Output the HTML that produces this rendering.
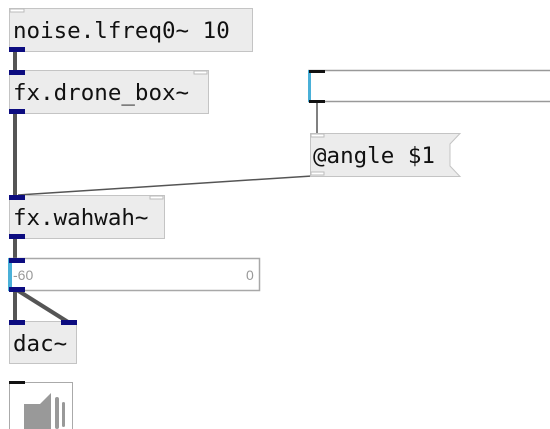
<!DOCTYPE html>
<html><head><style>
html,body{margin:0;padding:0;background:#fff;width:550px;height:429px;overflow:hidden}
svg{display:block}
text{font-family:"DejaVu Sans Mono","Liberation Mono",monospace;font-size:22.5px;fill:#111}
</style></head><body>
<svg width="550" height="429" viewBox="0 0 550 429">
<g stroke="#555" stroke-width="4" fill="none">
<line x1="15" y1="51" x2="15" y2="71"/>
<line x1="15" y1="113" x2="15" y2="196"/>
<line x1="15" y1="237" x2="15" y2="259"/>
<line x1="15" y1="290" x2="15" y2="322"/>
<line x1="17" y1="290" x2="68" y2="322"/>
</g>
<g stroke="#555" stroke-width="1.5" fill="none">
<line x1="317" y1="102" x2="317" y2="134"/>
<line x1="312" y1="176" x2="18" y2="195"/>
</g>
<rect x="9.5" y="8.5" width="243" height="43" fill="#ececec" stroke="#c4c4c4"/>
<rect x="10" y="9" width="14" height="3" fill="#fff" stroke="#bbb" stroke-width="1"/>
<text x="13" y="38">noise.lfreq0~ 10</text>
<rect x="9" y="47" width="16" height="5" fill="#0c0c80"/>
<rect x="9.5" y="70.5" width="199" height="43" fill="#ececec" stroke="#c4c4c4"/>
<rect x="194" y="71" width="13" height="3" fill="#fff" stroke="#bbb"/>
<rect x="9" y="70" width="16" height="5" fill="#0c0c80"/>
<text x="13" y="100">fx.drone_box~</text>
<rect x="9" y="109" width="16" height="5" fill="#0c0c80"/>
<rect x="9.5" y="195.5" width="155" height="43" fill="#ececec" stroke="#c4c4c4"/>
<rect x="150" y="196" width="13" height="3" fill="#fff" stroke="#bbb"/>
<rect x="9" y="195" width="16" height="5" fill="#0c0c80"/>
<text x="13" y="225">fx.wahwah~</text>
<rect x="9" y="234" width="16" height="5" fill="#0c0c80"/>
<rect x="9.5" y="258.5" width="250" height="32" fill="#fff" stroke="#a8a8a8" stroke-width="1.5"/>
<rect x="8" y="258" width="4" height="33" fill="#4ab0d8"/>
<rect x="9" y="258" width="16" height="5" fill="#0c0c80"/>
<rect x="9" y="287" width="16" height="5" fill="#0c0c80"/>
<text x="13" y="280" style="font-family:'Liberation Sans',sans-serif;font-size:14px;fill:#999">-60</text>
<text x="246" y="280" style="font-family:'Liberation Sans',sans-serif;font-size:14px;fill:#999">0</text>
<rect x="9.5" y="321.5" width="67" height="42" fill="#ececec" stroke="#c4c4c4"/>
<rect x="9" y="320" width="16" height="5" fill="#0c0c80"/>
<rect x="61" y="320" width="16" height="5" fill="#0c0c80"/>
<text x="13" y="351">dac~</text>
<rect x="9.5" y="382.5" width="63" height="50" fill="#fff" stroke="#aaa"/>
<rect x="9" y="381" width="16" height="3" fill="#111"/>
<polygon points="24,404 40,404 51,393 51,429 24,429" fill="#999"/>
<rect x="55" y="397" width="4" height="32" rx="2" fill="#999"/>
<rect x="62" y="402" width="3" height="25" rx="1.5" fill="#999"/>
<rect x="309" y="70.5" width="245" height="31" fill="#fff" stroke="#999" stroke-width="1.5"/>
<rect x="308" y="70" width="3" height="32" fill="#4ab0d8"/>
<rect x="309" y="70" width="16" height="3" fill="#111"/>
<rect x="309" y="100" width="16" height="3" fill="#111"/>
<polygon points="310.5,133.5 460,133.5 450,144 450,166 460,176.5 310.5,176.5" fill="#ececec" stroke="#c4c4c4"/>
<rect x="311" y="134" width="13" height="3" fill="#fff" stroke="#bbb"/>
<rect x="311" y="172" width="13" height="3" fill="#fff" stroke="#bbb"/>
<text x="313" y="163">@angle $1</text>
</svg>
</body></html>
